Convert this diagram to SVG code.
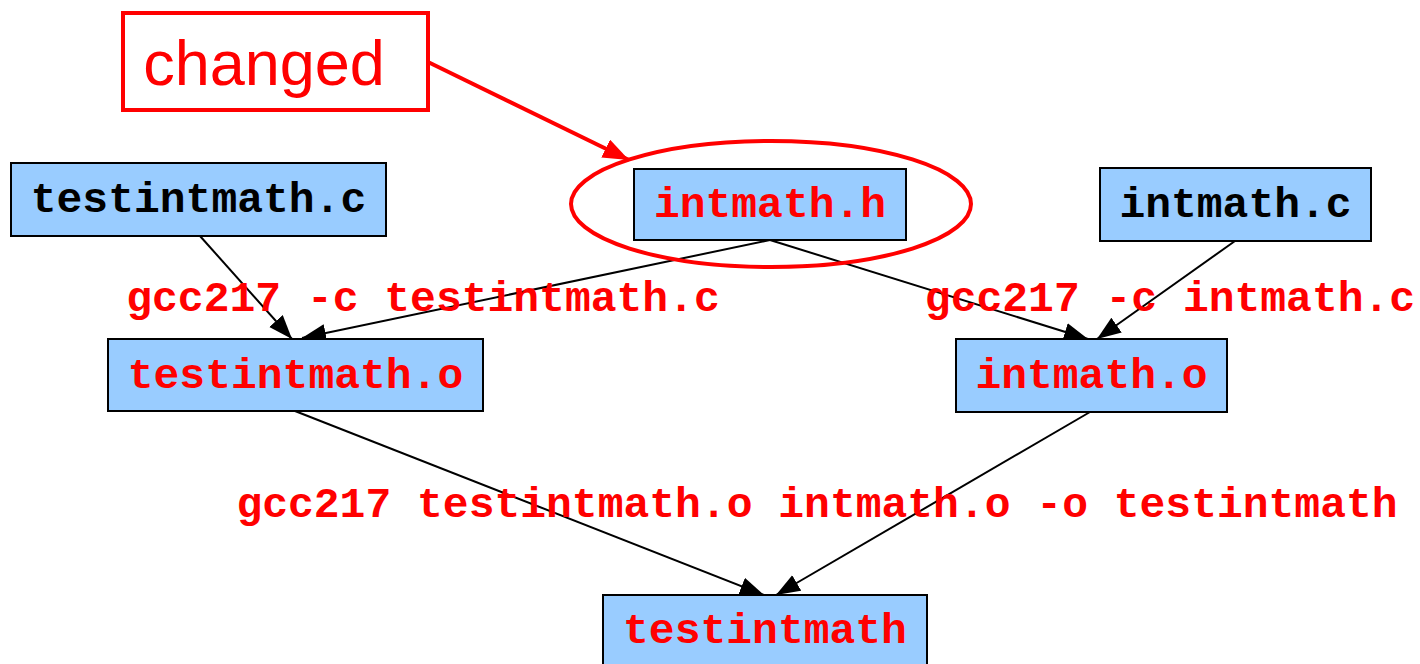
<svg xmlns="http://www.w3.org/2000/svg" width="1420" height="664" viewBox="0 0 1420 664">
<style>
.box{fill:#99ccff;stroke:#000;stroke-width:2}
.t{font-family:"Liberation Mono","Courier New",monospace;font-weight:bold;font-size:43px;text-anchor:middle}
.red{fill:#ff0000}
.blk{fill:#000}
.edge{fill:none;stroke:#000;stroke-width:2}
</style>
<defs>
<marker id="ah" markerUnits="userSpaceOnUse" markerWidth="26" markerHeight="20" refX="24" refY="9" orient="auto">
<path d="M0,0 L24,9 L0,18 Z" fill="#000"/>
</marker>
<marker id="ahr" markerUnits="userSpaceOnUse" markerWidth="28" markerHeight="22" refX="26" refY="10" orient="auto">
<path d="M0,0 L26,10 L0,20 Z" fill="#ff0000"/>
</marker>
</defs>
<rect width="1420" height="664" fill="#fff"/>
<g id="connectors">
<line class="edge" x1="200" y1="236" x2="292" y2="339" marker-end="url(#ah)"/>
<line class="edge" x1="770" y1="240" x2="302" y2="338" marker-end="url(#ah)"/>
<line class="edge" x1="770" y1="240" x2="1088" y2="339" marker-end="url(#ah)"/>
<line class="edge" x1="1235" y1="241" x2="1097" y2="339" marker-end="url(#ah)"/>
<line class="edge" x1="295" y1="411" x2="764" y2="595" marker-end="url(#ah)"/>
<line class="edge" x1="1090" y1="412" x2="776" y2="595" marker-end="url(#ah)"/>
<line x1="428" y1="62" x2="629" y2="160" stroke="#ff0000" stroke-width="4" marker-end="url(#ahr)"/>
<text class="t red" x="423" y="311">gcc217 -c testintmath.c</text>
<text class="t red" x="1170" y="311">gcc217 -c intmath.c</text>
<text class="t red" x="817" y="517">gcc217 testintmath.o intmath.o -o testintmath</text>
</g>
<g id="changed">
<rect x="123" y="13" width="305" height="97" fill="#fff" stroke="#ff0000" stroke-width="4"/>
<text x="264" y="85" font-family="Liberation Sans, Arial, sans-serif" font-size="63" fill="#ff0000" text-anchor="middle">changed</text>
</g>
<g id="testintmath_c">
<rect class="box" x="11" y="163" width="375" height="73"/>
<text class="t blk" x="198.5" y="212">testintmath.c</text>
</g>
<g id="intmath_h">
<rect class="box" x="634" y="169" width="272" height="71"/>
<text class="t red" x="770" y="217">intmath.h</text>
<ellipse cx="771" cy="204" rx="200" ry="63" fill="none" stroke="#ff0000" stroke-width="4"/>
</g>
<g id="intmath_c">
<rect class="box" x="1100" y="168" width="271" height="73"/>
<text class="t blk" x="1235.5" y="217">intmath.c</text>
</g>
<g id="testintmath_o">
<rect class="box" x="108" y="339" width="375" height="72"/>
<text class="t red" x="295.5" y="388">testintmath.o</text>
</g>
<g id="intmath_o">
<rect class="box" x="956" y="339" width="271" height="73"/>
<text class="t red" x="1091.5" y="388">intmath.o</text>
</g>
<g id="testintmath">
<rect class="box" x="603" y="595" width="324" height="73"/>
<text class="t red" x="765" y="643">testintmath</text>
</g>
</svg>
